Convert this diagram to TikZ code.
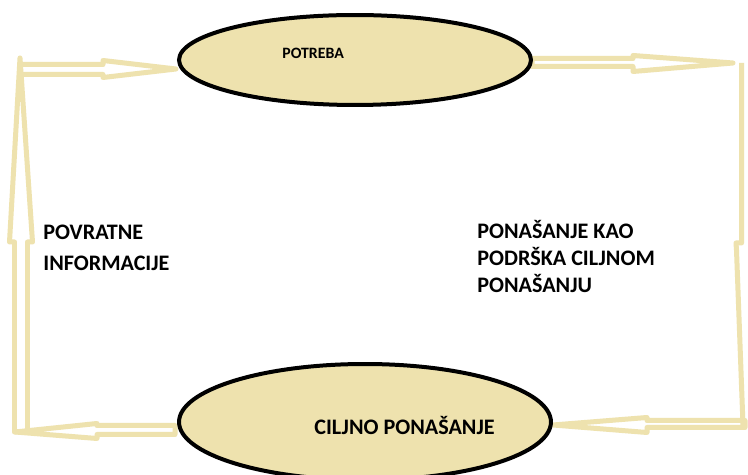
\documentclass[tikz,border=0pt]{standalone}
\usepackage{fontspec}
\setmainfont{Carlito}
\usetikzlibrary{positioning}
\usetikzlibrary{shapes.geometric}
\definecolor{pesak}{HTML}{EEE2AE}
\tikzset{blok/.style = {draw=pesak, line width=0.1cm, line join=round}}
\tikzset{elipsa/.style = {ellipse, draw=black, line width=0.08cm, fill=pesak, inner sep=0}}
\tikzset{natpis/.style = {inner sep=0, anchor=base west, align=left, font=\bfseries}}

\begin{document}
\begin{tikzpicture}[x=0.02cm, y=-0.02cm]
        \clip (0,0) rectangle (748,475);
        \fill [white] (0,0) rectangle (748,475);
        % blok strelice
        \draw [blok] (20,64.5) -- (103,64.5) -- (103,60.5) -- (176,69) -- (103,77.5) -- (103,74.5) -- (20,74.5) -- cycle;
        \draw [blok] (532,58.5) -- (633,58.5) -- (633,55.5) -- (733,63) -- (633,71.5) -- (633,66.5) -- (532,66.5) -- cycle;
        \draw [blok] (741.5,63) -- (741.5,243) -- (736,243) -- (736.5,250) -- (743,425);
        \draw [blok] (745,420.5) -- (647,420.5) -- (647,417.5) -- (553,425) -- (647,432.5) -- (647,427.5) -- (745,427.5) -- cycle;
        \draw [blok] (175,425.5) -- (97,425.5) -- (97,423.5) -- (15,432) -- (97,438.5) -- (97,434.5) -- (175,434.5) -- cycle;
        \draw [blok] (14.5,432) -- (14.5,242) -- (9.5,242) -- (20,58) -- (32.5,242) -- (27.5,242) -- (27.5,432) -- cycle;
        % elipse
        \node [elipsa, minimum width=7.04cm, minimum height=1.8cm] (potreba) at (355,60) {};
        \node [elipsa, minimum width=7.44cm, minimum height=2.32cm] (cilj) at (365,422) {};
        \node [natpis, font=\bfseries\fontsize{9}{11}\selectfont] (potrebaTxt) at (282,59) {POTREBA};
        \node [natpis, font=\bfseries\fontsize{12.6}{15}\selectfont] (ciljTxt) at (314,435) {CILJNO PONAŠANJE};
        \node [natpis, font=\bfseries\fontsize{12.6}{18}\selectfont] (povratne) at (43,271) {POVRATNE\\INFORMACIJE};
        \node [natpis, font=\bfseries\fontsize{12.6}{15.6}\selectfont] (podrska) at (477,293) {PONAŠANJE KAO\\PODRŠKA CILJNOM\\PONAŠANJU};
    \end{tikzpicture}
\end{document}
